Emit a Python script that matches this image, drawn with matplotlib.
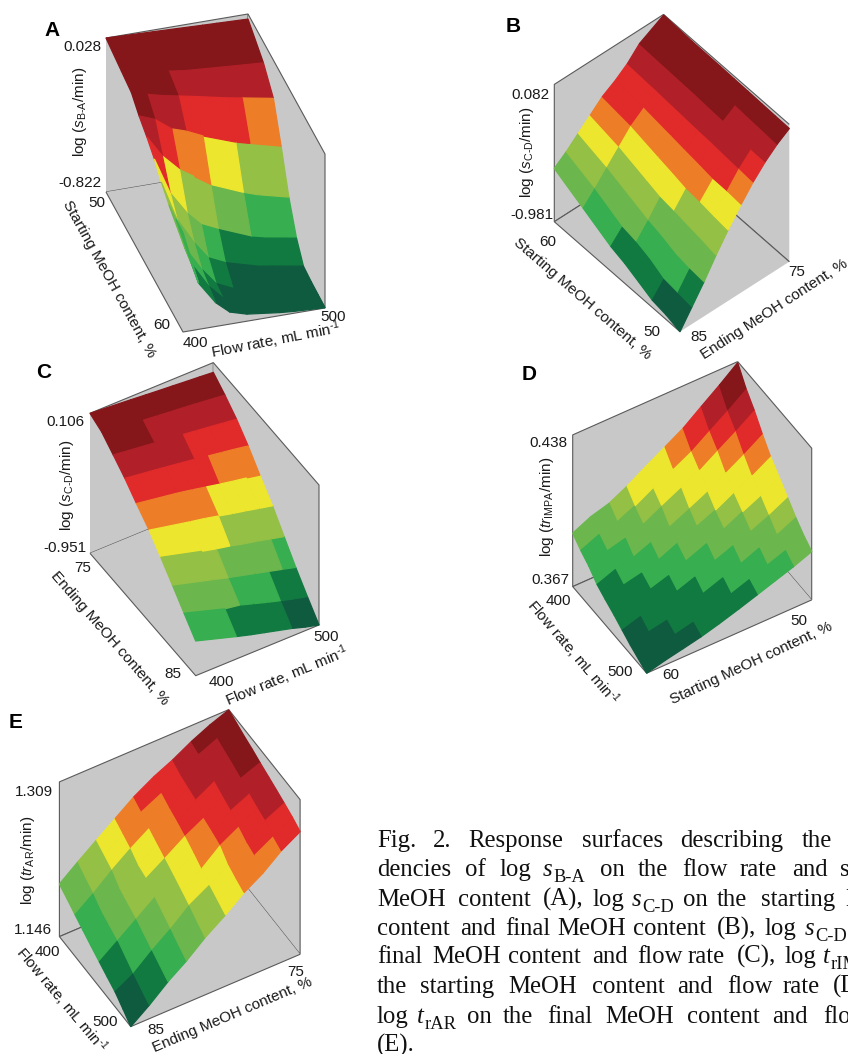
import numpy as np
import matplotlib
matplotlib.use("Agg")
import matplotlib.pyplot as plt
from matplotlib.colors import to_rgba
from mpl_toolkits.mplot3d import proj3d

# =========================================================
# CONFIG
# =========================================================
WIDTH, HEIGHT = 848, 1054
plt.rcParams["font.family"] = ["Liberation Sans", "DejaVu Sans"]
plt.rcParams["mathtext.fontset"] = "custom"
plt.rcParams["mathtext.rm"] = "Liberation Sans"
plt.rcParams["mathtext.it"] = "Liberation Sans:italic"
plt.rcParams["mathtext.bf"] = "Liberation Sans:bold"

# level 0 (lowest) .. level 9 (highest)
LEVEL_COLORS = ["#0F5B3F", "#117A41", "#37AE4F", "#6BB74E", "#94C045",
                "#EDE62E", "#EE7D28", "#E12A2A", "#B12028", "#85161A"]
WALL = "#C8C8C8"
WALL_EDGE = "#5A5A5A"

# =========================================================
# DATA (heights are fractions of the z axis)
# =========================================================
# A: rows = starting MeOH, columns = flow rate
START_A = [50, 52, 53.3, 54.3, 55.3, 56.3, 57.2, 58.2, 59.1, 60]
FLOW_A = [400, 411, 423, 433, 445, 468, 478, 500]
Z_A = [
    [1.00, .996, .992, .989, .985, .977, .974, .967],
    [.967, .945, .928, .915, .900, .885, .878, .865],
    [.946, .917, .890, .872, .850, .805, .789, .752],
    [.885, .846, .765, .735, .685, .609, .585, .533],
    [.840, .698, .591, .533, .461, .374, .343, .293],
    [.785, .550, .400, .309, .259, .174, .152, .117],
    [.717, .460, .290, .176, .126, .067, .052, .017],
    [.660, .367, .207, .100, .050, .012, .012, .008],
    [.650, .341, .180, .089, .040, .012, .010, .005],
    [.645, .300, .155, .078, .046, .020, .012, .002],
]
LEVELS_A = [
    [9, 9, 9, 9, 9, 9, 9],
    [9, 9, 9, 8, 8, 8, 8],
    [9, 8, 8, 7, 7, 7, 6],
    [8, 7, 6, 6, 5, 4, 4],
    [7, 5, 4, 4, 3, 2, 2],
    [5, 4, 3, 2, 1, 1, 1],
    [4, 3, 2, 1, 0, 0, 0],
    [3, 2, 1, 0, 0, 0, 0],
    [2, 1, 0, 0, 0, 0, 0],
]

# B: rows = starting MeOH, columns = ending MeOH
START_B = [60, 57.7, 55.5, 54.4, 53.3, 52.2, 51.1, 50]
END_B = [85, 83.9, 82.8, 81.7, 80.6, 79.4, 78.3, 77.2, 76.1, 75]
Z_B = [
    [.388, .454, .532, .609, .687, .745, .811, .900, .947, .995],
    [.282, .371, .468, .563, .658, .730, .800, .893, .940, .985],
    [.180, .270, .390, .497, .607, .700, .786, .886, .935, .983],
    [.146, .248, .350, .464, .583, .684, .779, .879, .934, .980],
    [.100, .211, .320, .449, .556, .670, .774, .874, .932, .978],
    [.053, .155, .280, .430, .546, .653, .765, .857, .925, .975],
    [.034, .141, .262, .413, .530, .652, .758, .842, .920, .972],
    [.000, .126, .252, .390, .517, .643, .750, .840, .913, .970],
]
LEVELS_B = [
    [3, 4, 5, 6, 7, 7, 8, 9, 9],
    [2, 3, 4, 5, 6, 7, 8, 9, 9],
    [1, 3, 4, 5, 6, 7, 8, 9, 9],
    [1, 2, 3, 5, 6, 7, 8, 9, 9],
    [1, 2, 3, 4, 6, 7, 8, 8, 9],
    [0, 2, 3, 4, 5, 7, 8, 8, 9],
    [0, 1, 3, 4, 5, 6, 7, 8, 9],
]

# C: rows = ending MeOH, columns = flow rate
END_C = [75, 76.1, 77.2, 78.3, 79.4, 80.6, 81.7, 82.8, 83.9, 85]
FLOW_C = [400, 433, 445, 456, 467, 478, 489, 500]
Z_C = [
    [1.00, .977, .968, .960, .953, .945, .938, .930],
    [.964, .925, .915, .905, .896, .886, .875, .864],
    [.895, .860, .850, .836, .825, .813, .800, .788],
    [.824, .785, .770, .756, .740, .725, .710, .693],
    [.740, .695, .675, .655, .635, .617, .600, .581],
    [.655, .595, .575, .553, .530, .510, .488, .467],
    [.557, .480, .455, .435, .410, .390, .366, .343],
    [.455, .375, .345, .320, .295, .270, .245, .219],
    [.350, .262, .245, .215, .185, .157, .130, .107],
    [.248, .160, .130, .105, .080, .055, .025, .000],
]
LEVELS_C = [
    [9, 9, 9, 9, 9, 9, 9],
    [9, 8, 8, 8, 8, 8, 8],
    [8, 8, 8, 7, 7, 7, 7],
    [7, 7, 7, 7, 6, 6, 6],
    [6, 6, 6, 5, 5, 5, 5],
    [5, 5, 5, 4, 4, 4, 4],
    [4, 4, 3, 3, 3, 3, 2],
    [3, 3, 2, 2, 2, 1, 1],
    [2, 1, 1, 1, 1, 0, 0],
]

# D: rows = flow rate, columns = starting MeOH
FLOW_D = [400, 411, 422, 433, 444, 456, 467, 478, 489, 500]
START_D = [60, 58.9, 57.8, 56.7, 55.6, 54.4, 53.3, 52.2, 51.1, 50]
Z_D = [
    [.352, .408, .442, .503, .576, .651, .721, .811, .899, .993],
    [.301, .352, .383, .438, .505, .574, .638, .721, .801, .888],
    [.259, .307, .337, .388, .450, .515, .576, .653, .728, .809],
    [.202, .247, .275, .322, .380, .440, .498, .569, .638, .714],
    [.167, .207, .233, .274, .326, .382, .434, .498, .560, .629],
    [.132, .170, .195, .232, .279, .331, .379, .438, .494, .558],
    [.095, .131, .155, .190, .232, .281, .326, .380, .431, .491],
    [.059, .092, .116, .147, .186, .232, .273, .322, .368, .423],
    [.029, .060, .084, .112, .148, .188, .229, .272, .314, .365],
    [.000, .030, .055, .081, .114, .154, .193, .233, .272, .319],
]
LEVELS_D = [
    [3, 3, 4, 5, 5, 6, 7, 8, 9],
    [2, 3, 3, 4, 5, 5, 6, 7, 8],
    [2, 2, 3, 3, 4, 5, 5, 6, 7],
    [1, 2, 2, 3, 3, 4, 5, 5, 6],
    [1, 1, 2, 2, 3, 3, 4, 5, 5],
    [1, 1, 1, 2, 2, 3, 3, 4, 5],
    [0, 1, 1, 1, 2, 2, 3, 3, 4],
    [0, 0, 1, 1, 1, 2, 2, 3, 3],
    [0, 0, 0, 1, 1, 1, 2, 2, 3],
]

# E: rows = flow rate, columns = ending MeOH
FLOW_E = [400, 411, 422, 433, 444, 456, 467, 478, 489, 500]
END_E = [85, 83.9, 82.8, 81.7, 80.6, 79.4, 78.3, 77.2, 76.1, 75]
Z_E = [
    [.340, .433, .522, .610, .698, .774, .830, .897, .953, .998],
    [.306, .395, .490, .578, .666, .731, .800, .879, .931, .976],
    [.269, .358, .457, .545, .623, .700, .782, .855, .910, .954],
    [.233, .310, .400, .500, .590, .675, .765, .832, .890, .935],
    [.198, .280, .370, .481, .558, .645, .710, .805, .866, .912],
    [.162, .250, .338, .427, .522, .607, .690, .778, .834, .890],
    [.129, .207, .300, .390, .487, .569, .668, .735, .810, .869],
    [.097, .164, .263, .351, .451, .526, .610, .700, .791, .847],
    [.050, .126, .226, .310, .410, .494, .580, .680, .748, .823],
    [.000, .088, .188, .272, .371, .461, .554, .627, .722, .793],
]
LEVELS_E = [
    [3, 4, 5, 6, 7, 7, 8, 9, 9],
    [3, 4, 5, 6, 6, 7, 8, 8, 9],
    [2, 3, 4, 5, 6, 7, 8, 8, 9],
    [2, 3, 4, 5, 6, 7, 7, 8, 9],
    [2, 3, 4, 4, 5, 6, 7, 8, 8],
    [1, 2, 3, 4, 5, 6, 7, 7, 8],
    [1, 2, 3, 4, 5, 5, 6, 7, 8],
    [0, 1, 2, 3, 4, 5, 6, 7, 7],
    [0, 1, 2, 3, 4, 5, 6, 6, 7],
]

# origin = pixel of the floor corner at (x min, y min)
PANELS = [
    dict(name="A", rows=START_A, cols=FLOW_A, z=Z_A, levels=LEVELS_A, rows_on_x=True,
         origin=(106, 192), x_edge=(77, 140), y_edge=(142, -24), height=154),
    dict(name="B", rows=START_B, cols=END_B, z=Z_B, levels=LEVELS_B, rows_on_x=True,
         origin=(789.3, 261.7), x_edge=(-125.7, -110), y_edge=(-109.3, 70), height=137.3),
    dict(name="C", rows=END_C, cols=FLOW_C, z=Z_C, levels=LEVELS_C, rows_on_x=True,
         origin=(90, 553.3), x_edge=(105.7, 122.4), y_edge=(123.3, -50.7), height=140),
    dict(name="D", rows=FLOW_D, cols=START_D, z=Z_D, levels=LEVELS_D, rows_on_x=False,
         origin=(737.7, 513.3), x_edge=(-165, 73.3), y_edge=(74, 86.6), height=151.7),
    dict(name="E", rows=FLOW_E, cols=END_E, z=Z_E, levels=LEVELS_E, rows_on_x=False,
         origin=(228.7, 864.3), x_edge=(-169.3, 72.3), y_edge=(71.4, 90), height=154.7),
]

FLOW_LABEL = r"Flow rate, mL min$^{\text{-1}}$"

# text, x, y, rotation (pixels of the picture)
PANEL_TEXT = [
    ("0.028", 82, 47, 0), ("-0.822", 80, 183, 0), ("50", 97, 203, 0), ("60", 162, 325, 0),
    ("400", 195, 343, 0), ("500", 333, 317, 0),
    (r"log ($\mathit{s}_{\text{B-A}}$/min)", 80, 112, 90),
    ("Starting MeOH content, %", 109, 279, -61),
    (FLOW_LABEL, 276, 340, 11),

    ("0.082", 530, 95, 0), ("-0.981", 532, 215, 0), ("60", 548, 242, 0), ("50", 652, 332, 0),
    ("85", 699, 337, 0), ("75", 797, 272, 0),
    (r"log ($\mathit{s}_{\text{C-D}}$/min)", 527, 152, 90),
    ("Starting MeOH content, %", 582, 299, -41),
    ("Ending MeOH content, %", 774, 309, 33),

    ("0.106", 65, 422, 0), ("-0.951", 65, 548, 0), ("75", 83, 568, 0), ("85", 173, 674, 0),
    ("400", 221, 682, 0), ("500", 326, 637, 0),
    (r"log ($\mathit{s}_{\text{C-D}}$/min)", 67, 485, 90),
    ("Ending MeOH content, %", 110, 638, -49),
    (FLOW_LABEL, 287, 676, 22.5),

    ("0.438", 548, 443, 0), ("0.367", 550, 580, 0), ("400", 558, 601, 0), ("500", 620, 672, 0),
    ("60", 671, 675, 0), ("50", 799, 621, 0),
    (r"log ($\mathit{tr}_{\text{IMPA}}$/min)", 547, 507, 90),
    (FLOW_LABEL, 573, 653, -49.5),
    ("Starting MeOH content, %", 751, 663, 25),

    ("1.309", 34, 792, 0), ("1.146", 33, 930, 0), ("400", 47, 952, 0), ("500", 105, 1022, 0),
    ("85", 156, 1030, 0), ("75", 296, 972, 0),
    (r"log ($\mathit{tr}_{\text{AR}}$/min)", 28, 860, 90),
    (FLOW_LABEL, 61, 1000, -50),
    ("Ending MeOH content, %", 232, 1015, 23),
]
LETTERS = [("A", 52, 30), ("B", 513, 27), ("C", 44, 373), ("D", 529, 374), ("E", 16, 722)]

# a word "s|B-A" is an italic s with subscript B-A
CAPTION_Y = [847, 876, 906, 935, 963, 993, 1023, 1052]
CAPTION_WORDS = [
    ["Fig.", "2.", "Response", "surfaces", "describing", "the"],
    ["dencies", "of", "log", "s|B-A", "on", "the", "flow", "rate", "and", "starting"],
    ["MeOH", "content", "(A),", "log", "s|C-D", "on", "the", "starting", "MeOH"],
    ["content", "and", "final", "MeOH", "content", "(B),", "log", "s|C-D"],
    ["final", "MeOH", "content", "and", "flow", "rate", "(C),", "log", "t|rIMPA"],
    ["the", "starting", "MeOH", "content", "and", "flow", "rate", "(D),"],
    ["log", "t|rAR", "on", "the", "final", "MeOH", "content", "and", "flow"],
    ["(E)."],
]
CAPTION_X = [
    [377, 433, 468, 582, 680, 802],
    [377, 465, 500, 543, 600, 638, 682, 740, 792, 840],
    [377, 458, 543, 593, 632, 683, 717, 761, 845],
    [377, 460, 505, 557, 633, 717, 765, 805],
    [377, 432, 508, 592, 637, 688, 737, 785, 823],
    [377, 420, 508, 592, 677, 727, 783, 833],
    [377, 417, 467, 503, 547, 605, 687, 772, 823],
    [377],
]


# =========================================================
# HELPER FUNCTIONS
# =========================================================
def fx(x):
    return x / WIDTH


def fy(y):
    return 1 - y / HEIGHT


def place_view(ax, origin, x_edge, y_edge, height):
    # orthographic view whose floor edges fall on the given pixel vectors
    a, b = x_edge
    c, d = y_edge
    sin_el = np.sqrt(-b * d / (a * c))
    elev = np.degrees(np.arcsin(sin_el))
    azim = np.degrees(np.arctan2(-a, b / sin_el))
    size_x = np.hypot(a, b / sin_el)
    size_y = np.hypot(c, d / sin_el)
    size_z = height / np.cos(np.radians(elev))
    ax.set_proj_type("ortho")
    ax.view_init(elev=elev, azim=azim)
    # zoom below 1 keeps the whole box inside the axes, which clip the surface
    ax.set_box_aspect((size_x, size_y, size_z), zoom=0.7)

    # scale and move the square axes so the floor lands on the target pixels
    ax.apply_aspect()
    M = ax.get_proj()
    (x0, x1), (y0, y1) = ax.get_xlim3d(), ax.get_ylim3d()
    p0 = proj3d.proj_transform(x0, y0, 0, M)[:2]
    p1 = proj3d.proj_transform(x1, y1, 0, M)[:2]
    d0, d1 = ax.transData.transform([p0, p1])
    target0 = np.array([origin[0], HEIGHT - origin[1]])
    target1 = target0 + np.array([a + c, -(b + d)])
    k = np.linalg.norm(target1 - target0) / np.linalg.norm(d1 - d0)
    box = ax.get_position()
    lower = np.array([box.x0 * WIDTH, box.y0 * HEIGHT])
    new_lower = target0 - k * (d0 - lower)
    ax.set_position([new_lower[0] / WIDTH, new_lower[1] / HEIGHT,
                     box.width * k, box.height * k])


def draw_panel(fig, panel):
    ax = fig.add_axes([0.1, 0.1, 400 / WIDTH, 400 / HEIGHT], projection="3d")
    ax.patch.set_visible(False)
    rows = np.array(panel["rows"], dtype=float)
    cols = np.array(panel["cols"], dtype=float)
    z = np.array(panel["z"], dtype=float)
    colors = np.array([[to_rgba(LEVEL_COLORS[v]) for v in row] for row in panel["levels"]])

    if panel["rows_on_x"]:
        X, Y = np.meshgrid(rows, cols, indexing="ij")
    else:
        X, Y = np.meshgrid(cols, rows)
    ax.plot_surface(X, Y, z, facecolors=colors, shade=False, rstride=1, cstride=1,
                    linewidth=0.9, antialiased=True)

    ax.set_xlim(X.min(), X.max())
    ax.set_ylim(Y.min(), Y.max())
    ax.set_zlim(0, 1)
    ax.grid(False)
    ax.set_xticks([])
    ax.set_yticks([])
    ax.set_zticks([])
    for axis in (ax.xaxis, ax.yaxis, ax.zaxis):
        axis.set_pane_color(to_rgba(WALL))
        axis.pane.set_edgecolor(WALL_EDGE)
        axis.pane.set_linewidth(0.8)
        axis.line.set_linewidth(0)
    place_view(ax, panel["origin"], panel["x_edge"], panel["y_edge"], panel["height"])


# =========================================================
# FIGURE
# =========================================================
fig = plt.figure(figsize=(WIDTH / 100, HEIGHT / 100), dpi=100)

for panel in PANELS:
    draw_panel(fig, panel)

for label, x, y, rot in PANEL_TEXT:
    fig.text(fx(x), fy(y), label, fontsize=11, color="#1A1A1A", rotation=rot,
             ha="center", va="center", rotation_mode="anchor")

for label, x, y in LETTERS:
    fig.text(fx(x), fy(y), label, fontsize=15, fontweight="bold", color="black",
             ha="center", va="center")

for y, words, xs in zip(CAPTION_Y, CAPTION_WORDS, CAPTION_X):
    for word, x in zip(words, xs):
        if "|" in word:
            base, sub = word.split("|")
            fig.text(fx(x), fy(y), base, fontsize=17.8, fontstyle="italic",
                     family="Liberation Serif", color="#111111", va="baseline")
            step = 10 if base == "s" else 7.5
            fig.text(fx(x + step), fy(y + 6), sub, fontsize=13.3,
                     family="Liberation Serif", color="#111111", va="baseline")
        else:
            fig.text(fx(x), fy(y), word, fontsize=17.8,
                     family="Liberation Serif", color="#111111", va="baseline")

fig.savefig("out.png", dpi=100)
